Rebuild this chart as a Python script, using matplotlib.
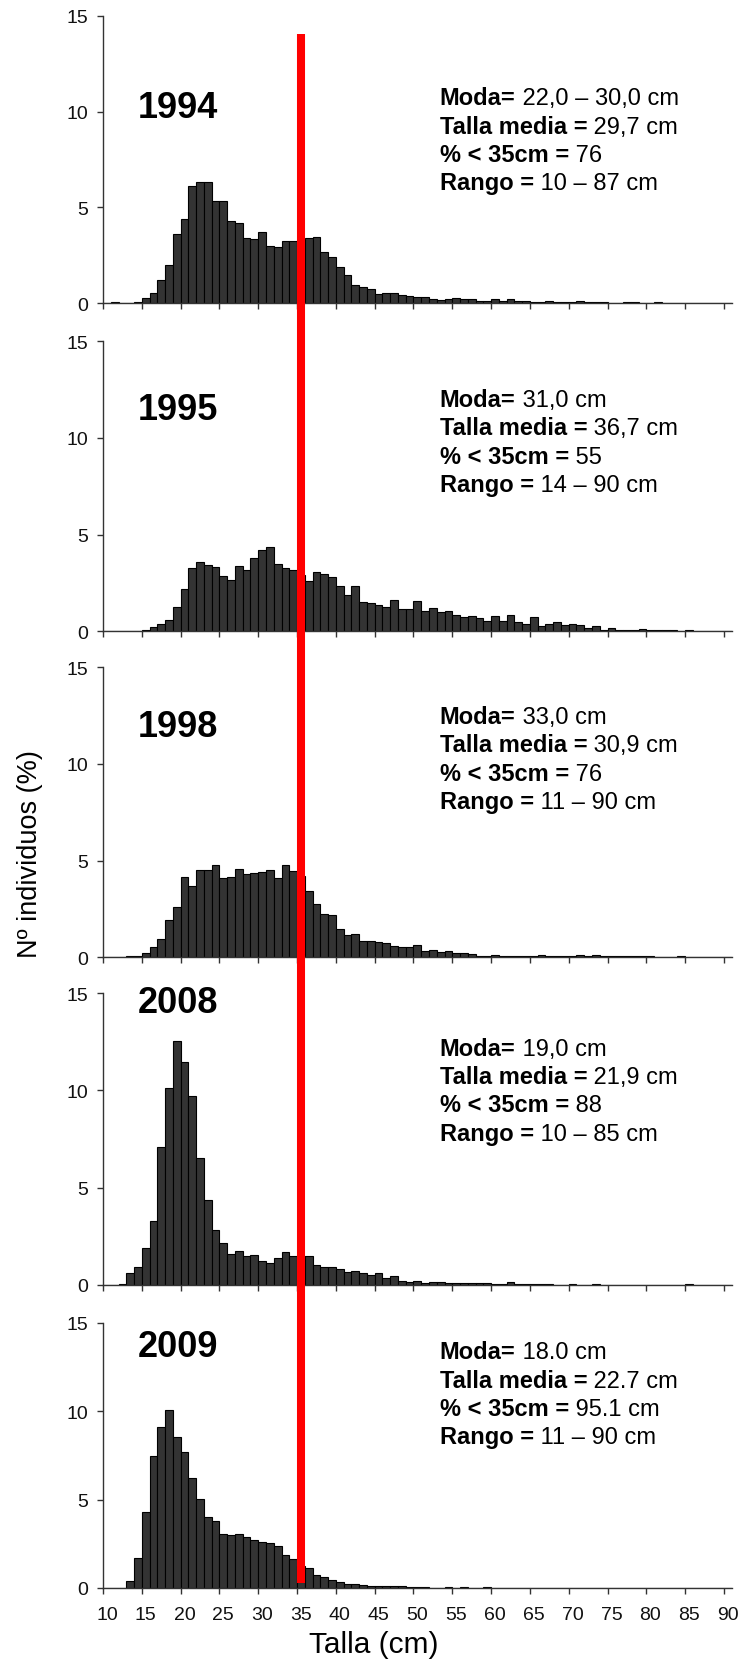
import numpy as np
import matplotlib
matplotlib.use("Agg")
import matplotlib.pyplot as plt
from matplotlib.lines import Line2D
from matplotlib.transforms import blended_transform_factory

plt.rcParams["font.family"] = ["Liberation Sans", "DejaVu Sans"]

# Clases de talla de 1 cm (10 ... 90 cm)
TALLAS = np.arange(10, 91)

# Frecuencias (% de individuos) por clase de talla
FREQ_1994 = [
    0, 0.05, 0, 0, 0.05, 0.28, 0.52, 1.2, 1.98, 3.6,
    4.38, 6.11, 6.34, 6.34, 5.35, 5.35, 4.27, 4.2, 3.39, 3.33,
    3.73, 3.0, 2.92, 3.26, 3.26, 3.3, 3.42, 3.47, 2.66, 2.4,
    1.88, 1.49, 0.95, 0.85, 0.76, 0.49, 0.52, 0.52, 0.42, 0.36,
    0.31, 0.31, 0.21, 0.15, 0.22, 0.26, 0.2, 0.2, 0.14, 0.14,
    0.21, 0.1, 0.21, 0.1, 0.1, 0.05, 0.05, 0.1, 0.05, 0.05,
    0.05, 0.1, 0.05, 0.05, 0.05, 0, 0, 0.05, 0.05, 0,
    0, 0.05, 0, 0, 0, 0, 0, 0, 0, 0,
    0,
]
FREQ_1995 = [
    0, 0, 0, 0, 0.02, 0.07, 0.21, 0.38, 0.59, 1.24,
    2.17, 3.26, 3.6, 3.45, 3.31, 2.88, 2.64, 3.4, 3.16, 3.78,
    4.22, 4.38, 3.5, 3.26, 3.16, 2.9, 2.59, 3.09, 2.95, 2.79,
    2.36, 1.9, 2.36, 1.53, 1.45, 1.36, 1.24, 1.63, 1.15, 1.15,
    1.59, 1.07, 1.23, 0.98, 1.07, 0.82, 0.74, 0.77, 0.71, 0.55,
    0.81, 0.52, 0.86, 0.5, 0.4, 0.76, 0.26, 0.4, 0.5, 0.34,
    0.4, 0.31, 0.19, 0.29, 0.09, 0.19, 0.09, 0.09, 0.09, 0.14,
    0.05, 0.05, 0.05, 0.05, 0, 0.05, 0, 0, 0, 0,
    0.02,
]
FREQ_1998 = [
    0, 0.02, 0.02, 0.07, 0.07, 0.22, 0.52, 0.93, 1.91, 2.59,
    4.17, 3.71, 4.53, 4.5, 4.79, 4.12, 4.17, 4.59, 4.29, 4.38,
    4.43, 4.5, 4.12, 4.79, 4.45, 4.22, 3.45, 2.74, 2.22, 2.17,
    1.45, 1.16, 1.19, 0.83, 0.83, 0.78, 0.72, 0.56, 0.51, 0.51,
    0.66, 0.31, 0.4, 0.25, 0.35, 0.2, 0.2, 0.15, 0.09, 0.09,
    0.14, 0.09, 0.09, 0.09, 0.09, 0.09, 0.14, 0.09, 0.09, 0.09,
    0.09, 0.14, 0.05, 0.14, 0.05, 0.09, 0.05, 0.05, 0.09, 0.05,
    0.05, 0, 0, 0, 0.05, 0, 0, 0, 0, 0,
    0.02,
]
FREQ_2008 = [
    0, 0, 0.05, 0.58, 0.89, 1.87, 3.26, 7.07, 10.12, 12.52,
    11.44, 9.69, 6.5, 4.34, 2.8, 2.13, 1.56, 1.72, 1.48, 1.51,
    1.2, 1.1, 1.36, 1.66, 1.46, 1.46, 1.46, 1.03, 0.89, 0.89,
    0.79, 0.63, 0.69, 0.58, 0.48, 0.6, 0.35, 0.44, 0.17, 0.12,
    0.18, 0.08, 0.12, 0.12, 0.07, 0.07, 0.07, 0.07, 0.07, 0.07,
    0.03, 0.03, 0.15, 0.04, 0.04, 0.04, 0.04, 0.04, 0, 0,
    0.04, 0, 0, 0.04, 0, 0, 0, 0, 0, 0,
    0, 0, 0, 0, 0, 0.02, 0, 0, 0, 0,
    0,
]
FREQ_2009 = [
    0, 0.02, 0, 0.41, 1.67, 4.31, 7.5, 9.13, 10.09, 8.57,
    7.7, 6.25, 5.05, 4.03, 3.8, 3.08, 3.01, 3.08, 2.86, 2.73,
    2.63, 2.57, 2.39, 1.84, 1.62, 1.24, 1.15, 0.71, 0.62, 0.43,
    0.36, 0.24, 0.24, 0.19, 0.13, 0.13, 0.13, 0.09, 0.09, 0.08,
    0.08, 0.07, 0, 0, 0.05, 0, 0.05, 0, 0, 0.05,
    0, 0, 0, 0, 0, 0, 0, 0, 0, 0,
    0, 0, 0, 0, 0, 0, 0, 0, 0, 0,
    0, 0, 0, 0, 0, 0, 0, 0, 0, 0,
    0.02,
]

YEARS = ["1994", "1995", "1998", "2008", "2009"]
FREQS = [FREQ_1994, FREQ_1995, FREQ_1998, FREQ_2008, FREQ_2009]

STATS = [
    [("Moda=", "22,0 – 30,0 cm"), ("Talla media =", "29,7 cm"),
     ("% < 35cm =", "76"), ("Rango =", "10 – 87 cm")],
    [("Moda=", "31,0 cm"), ("Talla media =", "36,7 cm"),
     ("% < 35cm =", "55"), ("Rango =", "14 – 90 cm")],
    [("Moda=", "33,0 cm"), ("Talla media =", "30,9 cm"),
     ("% < 35cm =", "76"), ("Rango =", "11 – 90 cm")],
    [("Moda=", "19,0 cm"), ("Talla media =", "21,9 cm"),
     ("% < 35cm =", "88"), ("Rango =", "10 – 85 cm")],
    [("Moda=", "18.0 cm"), ("Talla media =", "22.7 cm"),
     ("% < 35cm =", "95.1 cm"), ("Rango =", "11 – 90 cm")],
]

TALLA_REF = 35  # talla de referencia (cm)

# --- maquetacion (pixeles de la figura) ---
W, H = 747, 1665
AX_LEFT, AX_RIGHT = 103, 731.7
PANELS_PX = [(16.7, 304.3), (342.3, 632.3), (668.3, 958.3),
             (994.3, 1285.7), (1324, 1589)]
YEAR_Y = [9.7, 11.0, 11.45, 14.05, 13.15]
STATS_Y = [10.71, 11.99, 12.46, 12.18, 13.36]
STATS_X = 53.4
TXT_SIZE = 17
LINE_STEP = 20.4  # pt entre lineas del recuadro de estadisticos
TICK_SIZE = 14

fig = plt.figure(figsize=(W / 100, H / 100), dpi=100)
axes = []
for i, (top, bottom) in enumerate(PANELS_PX):
    ax = fig.add_axes([AX_LEFT / W, 1 - bottom / H,
                       (AX_RIGHT - AX_LEFT) / W, (bottom - top) / H])
    axes.append(ax)

    ax.bar(TALLAS, FREQS[i], width=1.0, align="edge", color="#333333",
           edgecolor="black", linewidth=0.8)

    ax.set_xlim(10, 91)
    ax.set_ylim(0, 15)
    ax.set_yticks([0, 5, 10, 15])
    ax.set_xticks(np.arange(10, 91, 5))
    ax.set_xticklabels([])
    for s in ("top", "right"):
        ax.spines[s].set_visible(False)
    for s in ("left", "bottom"):
        ax.spines[s].set_color("#333333")
        ax.spines[s].set_linewidth(1.0)
    ax.tick_params(axis="both", which="major", direction="out", length=4,
                   width=1.0, color="#333333", labelsize=TICK_SIZE, pad=6.5,
                   labelcolor="#111111")

    # etiquetas de talla centradas en cada clase
    if i == len(PANELS_PX) - 1:
        ax.set_xticks(np.arange(10, 91, 5) + 0.5, minor=True)
        ax.set_xticklabels([str(v) for v in range(10, 91, 5)], minor=True)
        ax.tick_params(axis="x", which="minor", length=0, pad=13,
                       labelsize=TICK_SIZE, labelcolor="#111111")

    ax.text(14.5, YEAR_Y[i], YEARS[i], fontsize=26, fontweight="bold",
            ha="left", va="baseline")

    for j, (bold, normal) in enumerate(STATS[i]):
        t = ax.annotate(bold, xy=(STATS_X, STATS_Y[i]),
                        xytext=(0, -j * LINE_STEP),
                        textcoords="offset points", fontsize=TXT_SIZE,
                        fontweight="bold", ha="left", va="center")
        ax.annotate(" " + normal, xy=(1, 0), xycoords=t, fontsize=TXT_SIZE,
                    ha="left", va="bottom")

# linea vertical de talla de referencia, cruzando todos los paneles
trans = blended_transform_factory(axes[0].transData, fig.transFigure)
fig.add_artist(Line2D([TALLA_REF + 0.45] * 2, [1 - 35 / H, 1 - 1584 / H],
                      transform=trans, color="#ff0000", linewidth=5.8,
                      solid_capstyle="butt", zorder=5))

fig.text(30 / W, 1 - 854 / H, "Nº individuos (%)", rotation=90,
         fontsize=19.5, ha="center", va="center")
fig.text(0.5, 1 - 1645 / H, "Talla (cm)", fontsize=21.5,
         ha="center", va="center")

fig.savefig("out.png", dpi=100)
